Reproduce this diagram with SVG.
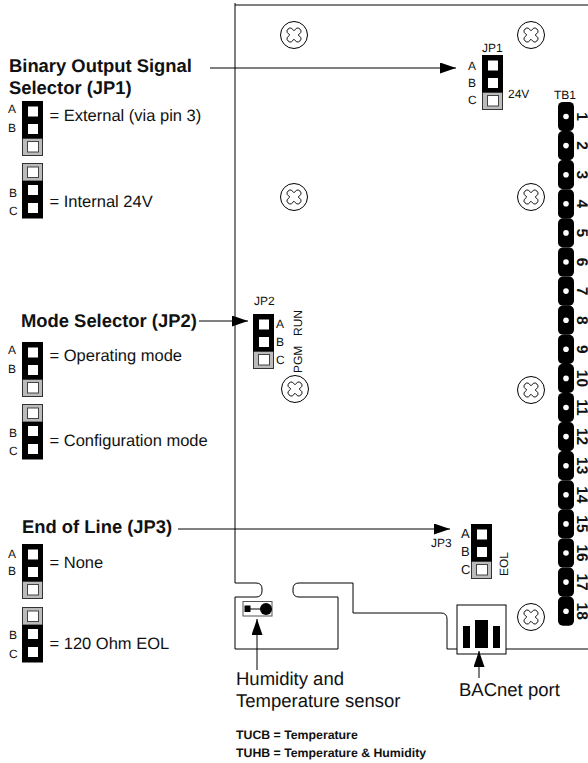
<svg xmlns="http://www.w3.org/2000/svg" width="588" height="763" viewBox="0 0 588 763">
<style>
text{font-family:"Liberation Sans",Arial,sans-serif;fill:#111;text-rendering:geometricPrecision}
.t{font-size:16.5px}
.h{font-size:18.4px;font-weight:bold}
.s{font-size:12px}
.b{font-size:13px}
.l{font-size:18.5px}
.f{font-size:12.3px;font-weight:bold}
.n{font-size:15.5px;font-weight:bold;text-anchor:middle}
.o{fill:none;stroke:#000;stroke-width:1}
.c{fill:none;stroke:#000;stroke-width:1}
</style>
<defs>
<marker id="a" markerWidth="16" markerHeight="11" refX="16" refY="5.5" orient="auto" markerUnits="userSpaceOnUse"><path d="M0 0L16 5.5L0 11z" fill="#000"/></marker>
<g id="ab"><rect x="0.5" y="37" width="20" height="17.5" fill="#bbb" stroke="#333"/><rect width="21" height="37.5" fill="#000"/><rect x="6" y="5.5" width="10" height="10" fill="#fff"/><rect x="6" y="23" width="10" height="10" fill="#fff"/><rect x="5.5" y="40.5" width="11" height="10.5" fill="#fff" stroke="#444"/></g>
<g id="bc"><rect x="0.5" y="0.5" width="20" height="17.5" fill="#bbb" stroke="#333"/><rect y="18" width="21" height="37.5" fill="#000"/><rect x="5.5" y="4" width="11" height="10.5" fill="#fff" stroke="#444"/><rect x="6" y="22" width="10" height="10" fill="#fff"/><rect x="6" y="40" width="10" height="10" fill="#fff"/></g>
<g id="sc"><circle r="13.5" fill="#fff" stroke="#000"/><path transform="scale(.85)" d="M-3-8L0-5L3-8Q5-9 7-7Q9-5 8-3L5 0L8 3Q9 5 7 7Q5 9 3 8L0 5L-3 8Q-5 9-7 7Q-9 5-8 3L-5 0L-8-3Q-9-5-7-7Q-5-9-3-8z" fill="#fff" stroke="#000" stroke-width="1.1"/></g>
<g id="p"><rect x="-8" y="-14.6" width="16" height="29.2" rx="5" fill="#000"/><circle r="2.8" fill="#fff"/></g>
</defs>
<g id="board"><path class="o" d="M235 3V583H256Q262 583 262 589V591Q262 597 256 597H235V649H338V597H299Q293 597 293 591V589Q293 583 299 583H353V613H441Q447 613 447 619V649H588M235 5H588"/></g>
<g id="screws"><use href="#sc" x="294" y="35"/><use href="#sc" x="531" y="35"/><use href="#sc" x="294" y="197"/><use href="#sc" x="531" y="197"/><use href="#sc" x="295" y="389"/><use href="#sc" x="531" y="390"/><use href="#sc" x="531" y="617"/></g>
<g id="tb1"><text class="s" x="554" y="99">TB1</text>
<use href="#p" x="566" y="116.5"/><use href="#p" x="566" y="145.6"/><use href="#p" x="566" y="174.7"/><use href="#p" x="566" y="203.8"/><use href="#p" x="566" y="232.9"/><use href="#p" x="566" y="262"/><use href="#p" x="566" y="291.1"/><use href="#p" x="566" y="320.2"/><use href="#p" x="566" y="349.3"/><use href="#p" x="566" y="378.4"/><use href="#p" x="566" y="407.5"/><use href="#p" x="566" y="436.6"/><use href="#p" x="566" y="465.7"/><use href="#p" x="566" y="494.8"/><use href="#p" x="566" y="523.9"/><use href="#p" x="566" y="553"/><use href="#p" x="566" y="582.1"/><use href="#p" x="566" y="611.2"/>
<text class="n" transform="translate(576.5 116.5) rotate(90)">1</text><text class="n" transform="translate(576.5 145.6) rotate(90)">2</text><text class="n" transform="translate(576.5 174.7) rotate(90)">3</text><text class="n" transform="translate(576.5 203.8) rotate(90)">4</text><text class="n" transform="translate(576.5 232.9) rotate(90)">5</text><text class="n" transform="translate(576.5 262) rotate(90)">6</text><text class="n" transform="translate(576.5 291.1) rotate(90)">7</text><text class="n" transform="translate(576.5 320.2) rotate(90)">8</text><text class="n" transform="translate(576.5 349.3) rotate(90)">9</text><text class="n" transform="translate(576.5 378.4) rotate(90)">10</text><text class="n" transform="translate(576.5 407.5) rotate(90)">11</text><text class="n" transform="translate(576.5 436.6) rotate(90)">12</text><text class="n" transform="translate(576.5 465.7) rotate(90)">13</text><text class="n" transform="translate(576.5 494.8) rotate(90)">14</text><text class="n" transform="translate(576.5 523.9) rotate(90)">15</text><text class="n" transform="translate(576.5 553) rotate(90)">16</text><text class="n" transform="translate(576.5 582.1) rotate(90)">17</text><text class="n" transform="translate(576.5 611.2) rotate(90)">18</text></g>
<g id="jp1"><use href="#ab" x="482" y="55"/><text class="s" x="482" y="52">JP1</text><text class="s" x="468" y="70">A</text><text class="s" x="468" y="87">B</text><text class="s" x="468" y="104">C</text><text class="s" x="508" y="98">24V</text></g>
<g id="jp2"><use href="#ab" x="253" y="314"/><text class="s" x="254" y="305">JP2</text><text class="s" x="276" y="328">A</text><text class="s" x="276" y="346">B</text><text class="s" x="276" y="364">C</text><text class="s" transform="translate(302 336) rotate(-90)">RUN</text><text class="s" transform="translate(302 373) rotate(-90)">PGM</text></g>
<g id="jp3"><use href="#ab" x="471" y="524"/><text class="s" x="431" y="547">JP3</text><text class="b" x="461" y="538">A</text><text class="b" x="461" y="556">B</text><text class="b" x="461" y="574">C</text><text class="s" transform="translate(508 576) rotate(-90)">EOL</text></g>
<g id="sensor"><rect x="243" y="601.5" width="29" height="14.5" fill="#fff" stroke="#555"/><rect x="244.5" y="605.5" width="6" height="6.5" fill="#000"/><path d="M250 609H262" stroke="#000"/><circle cx="266" cy="609" r="6" fill="#000"/></g>
<g id="bacnet"><rect x="457" y="605" width="49" height="49" fill="#fff" stroke="#000"/><rect x="463" y="626" width="7" height="22" fill="#000"/><rect x="475" y="620" width="13" height="28" fill="#000"/><rect x="493" y="626" width="7" height="22" fill="#000"/></g>
<g id="connectors"><path class="c" marker-end="url(#a)" d="M210 68H456"/><path class="c" marker-end="url(#a)" d="M199 321H248"/><path class="c" marker-end="url(#a)" d="M178 529H450"/><path class="c" marker-end="url(#a)" d="M257 670V619"/><path class="c" marker-end="url(#a)" d="M479 678V651"/></g>
<g id="legend-jp1"><text class="h" x="9" y="72">Binary Output Signal</text><text class="h" x="9" y="94">Selector (JP1)</text><use href="#ab" x="22" y="101"/><text class="s" x="8" y="113">A</text><text class="s" x="8" y="132">B</text><text class="t" x="49.5" y="121">= External (via pin 3)</text><use href="#bc" x="22" y="163"/><text class="s" x="9" y="197">B</text><text class="s" x="9" y="215">C</text><text class="t" x="49.5" y="207">= Internal 24V</text></g>
<g id="legend-jp2"><text class="h" x="21" y="327">Mode Selector (JP2)</text><use href="#ab" x="22" y="342"/><text class="s" x="8" y="354">A</text><text class="s" x="8" y="373">B</text><text class="t" x="49.5" y="361">= Operating mode</text><use href="#bc" x="22" y="404"/><text class="s" x="9" y="437">B</text><text class="s" x="9" y="455">C</text><text class="t" x="49.5" y="446">= Configuration mode</text></g>
<g id="legend-jp3"><text class="h" x="22" y="533">End of Line (JP3)</text><use href="#ab" x="22" y="544"/><text class="s" x="8" y="558">A</text><text class="s" x="8" y="575">B</text><text class="t" x="49.5" y="568">= None</text><use href="#bc" x="22" y="607"/><text class="s" x="9" y="639">B</text><text class="s" x="9" y="658">C</text><text class="t" x="49.5" y="649">= 120 Ohm EOL</text></g>
<g id="notes"><text class="l" x="236" y="685">Humidity and</text><text class="l" x="236" y="707">Temperature sensor</text><text class="l" x="459" y="696">BACnet port</text><text class="f" x="236" y="739">TUCB = Temperature</text><text class="f" x="236" y="757">TUHB = Temperature &amp; Humidity</text></g>
</svg>
